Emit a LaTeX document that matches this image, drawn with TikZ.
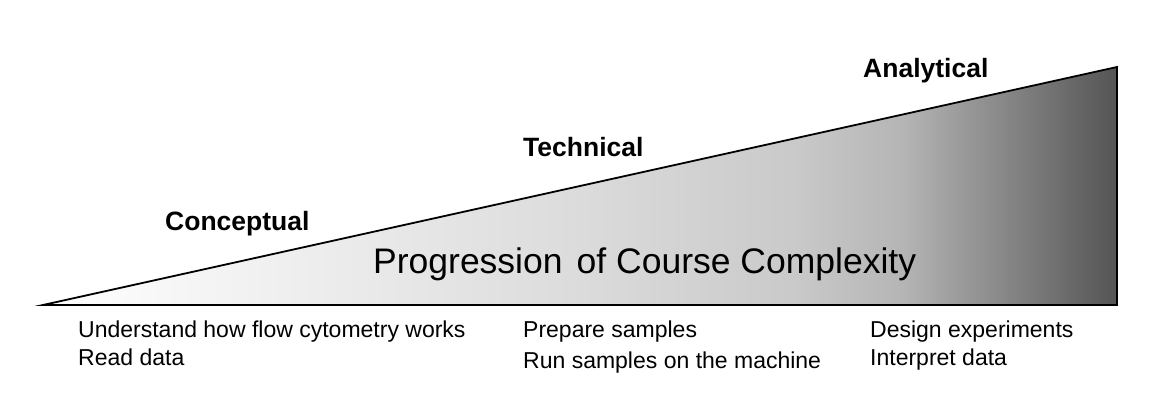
\documentclass[tikz,border=0pt]{standalone}
\usepackage{fontspec}
\setmainfont{Liberation Sans}

% grey ramp for the wedge: pale for most of the width, darkening near the tall end
\definecolor{rampA}{gray}{0.86}
\definecolor{rampB}{gray}{0.79}
\definecolor{rampC}{gray}{0.71}
\definecolor{rampD}{gray}{0.52}
\definecolor{rampE}{gray}{0.33}
\pgfdeclarehorizontalshading{wedgeramp}{100bp}{%
  color(0bp)=(white); color(25bp)=(white); color(50bp)=(rampA);
  color(60bp)=(rampB); color(65bp)=(rampC); color(70bp)=(rampD);
  color(75bp)=(rampE); color(100bp)=(rampE)}

\begin{document}
\begin{tikzpicture}[x=1pt,y=-1pt,
  stage/.style={font=\fontsize{26.5}{31}\selectfont\bfseries, anchor=base west, inner sep=0pt},
  task/.style={font=\fontsize{23}{28}\selectfont, anchor=base west, inner sep=0pt},
  headline/.style={font=\fontsize{35.5}{42}\selectfont, anchor=base west, inner sep=0pt}]

  \useasboundingbox (0,0) rectangle (1151,414);

  % the wedge
  \coordinate (tip) at (43,305);
  \coordinate (topr) at (1117,67);
  \coordinate (botr) at (1117,305);
  \draw[line width=1.8pt, line join=miter, shading=wedgeramp]
    (tip) -- (topr) -- (botr) -- cycle;

  % stage labels
  \node[stage] (conceptual) at (165,230) {Conceptual};
  \node[stage] (technical) at (523,157) {Technical};
  \node[stage] (analytical) at (863,78) {Analytical};

  % title inside the wedge
  \node[headline] (progress) at (373,273) {Progression\hspace{0.12em} of Course Complexity};

  % skills under each stage
  \node[task] (understand) at (78,337) {Understand how flow cytometry works};
  \node[task] (readdata) at (78,365) {Read data};
  \node[task] (prepare) at (523,337) {Prepare samples};
  \node[task] (runsamples) at (523,368) {Run samples on the machine};
  \node[task] (design) at (870,337) {Design experiments};
  \node[task] (interpret) at (870,365) {Interpret data};
\end{tikzpicture}
\end{document}
